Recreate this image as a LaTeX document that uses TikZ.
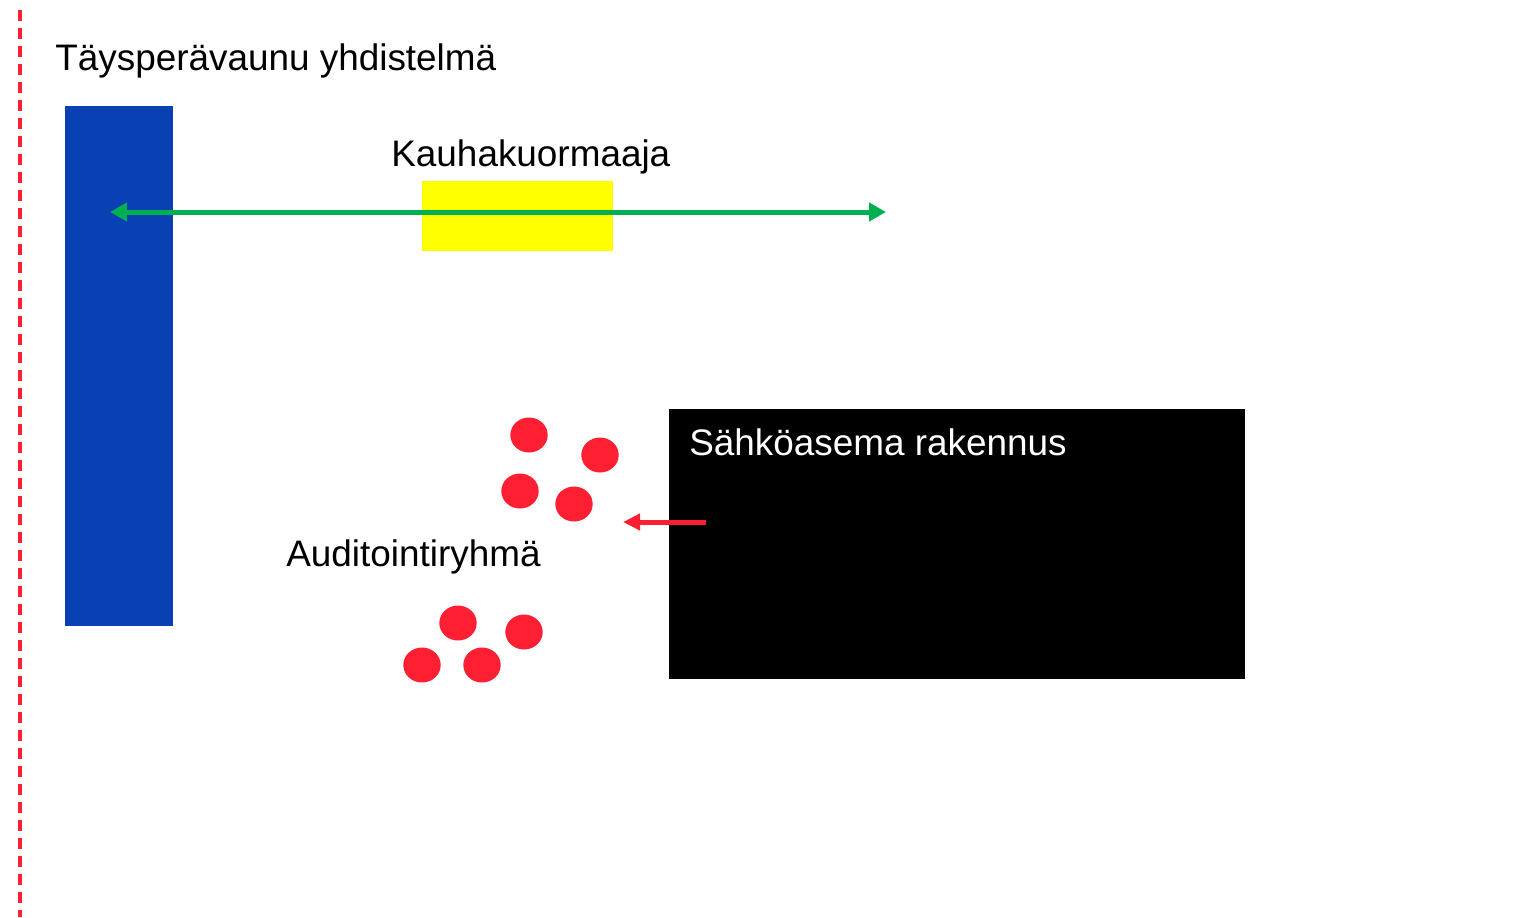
\documentclass[tikz,border=0pt]{standalone}
\usepackage{fontspec}
\setmainfont{Liberation Sans}
\usetikzlibrary{arrows.meta}
\definecolor{trailerblue}{HTML}{0940B4}
\definecolor{loaderyellow}{HTML}{FFFF00}
\definecolor{arrowgreen}{HTML}{00B050}
\definecolor{teamred}{HTML}{FF1F33}
\tikzset{
	label text/.style={anchor=base west, inner sep=0pt, font=\fontsize{21}{25}\selectfont},
	team member/.style={fill=teamred, draw=none},
}

\begin{document}
\begin{tikzpicture}[x=0.02cm, y=-0.02cm]
			%%%%% START %%%%%
			\useasboundingbox (0, 0) rectangle (1539, 917);
			
			\draw[teamred, line width=0.08cm, dash pattern=on 0.22cm off 0.14cm] (20, 10) -- (20, 917);
			
			\node[label text] (trailerlabel) at (55, 70) {Täysperävaunu yhdistelmä};
			\fill[trailerblue] (65, 106) rectangle (173, 626);
			
			\node[label text] (loaderlabel) at (391, 166) {Kauhakuormaaja};
			\fill[loaderyellow] (422, 181) rectangle (613, 251);
			
			\coordinate (reachleft) at (110, 212);
			\coordinate (reachright) at (886, 212);
			\draw[arrowgreen, line width=0.1cm, {Triangle[length=0.34cm, width=0.36cm]}-{Triangle[length=0.34cm, width=0.36cm]}] (reachleft) -- (reachright);
			
			\fill (669, 409) rectangle (1245, 679);
			\node[label text, white] (stationlabel) at (689, 455) {Sähköasema rakennus};
			
			\coordinate (alarmstart) at (706, 522);
			\coordinate (alarmend) at (623, 522);
			\draw[teamred, line width=0.1cm, -{Triangle[length=0.34cm, width=0.32cm]}] (alarmstart) -- (alarmend);
			
			\node[label text] (teamlabel) at (286, 566) {Auditointiryhmä};
			\foreach \cx/\cy in {529/435, 600/455, 520/491, 574/504, 458/623, 524/632, 422/665, 482/665}
				\fill[team member] (\cx, \cy) ellipse (18.7 and 17.5);
			%%%%% END %%%%%
		\end{tikzpicture}
\end{document}
